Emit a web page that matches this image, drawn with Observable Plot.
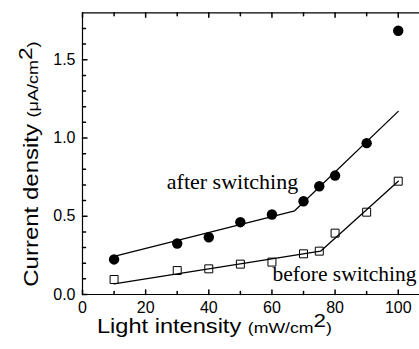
<!DOCTYPE html>
<html><head><meta charset="utf-8">
<script src="https://cdn.jsdelivr.net/npm/d3@7"></script>
<script src="https://cdn.jsdelivr.net/npm/@observablehq/plot@0.6"></script>
<style>html,body{margin:0;padding:0;background:#fff;overflow:hidden} svg{display:block}</style>
</head><body><div id="chart"></div>
<script>
// Data
const intensity = [10, 30, 40, 50, 60, 70, 75, 80, 90, 100];
const afterSwitching = [0.224, 0.326, 0.366, 0.462, 0.511, 0.596, 0.692, 0.760, 0.967, 1.685];
const beforeSwitching = [0.096, 0.153, 0.164, 0.194, 0.207, 0.260, 0.277, 0.392, 0.526, 0.724];
const afterFitX = [10, 67.2, 100];
const afterFitY = [0.243, 0.535, 1.17];
const beforeFitX = [10, 75.4, 100];
const beforeFitY = [0.068, 0.277, 0.724];
const xTickLabels = [0, 20, 40, 60, 80, 100];
const yTickLabels = [0, 0.5, 1.0, 1.5];
const xMajorTicks = [0, 20, 40, 60, 80, 100];
const xMinorTicks = [10, 30, 50, 70, 90];
const yMajorTicks = [0, 0.5, 1.0, 1.5];
const yMinorTicks = [0.1, 0.2, 0.3, 0.4, 0.6, 0.7, 0.8, 0.9, 1.1, 1.2, 1.3, 1.4, 1.6, 1.7];

const afterData = intensity.map((x, i) => ({x, y: afterSwitching[i]}));
const beforeData = intensity.map((x, i) => ({x, y: beforeSwitching[i]}));
const afterFit = afterFitX.map((x, i) => ({x, y: afterFitY[i]}));
const beforeFit = beforeFitX.map((x, i) => ({x, y: beforeFitY[i]}));

const tickShape = {draw(ctx, l) { ctx.moveTo(0, 0); ctx.lineTo(0, -l); }};
const sans = "'Liberation Sans', Arial, sans-serif";
const serif = "'Liberation Serif', 'Times New Roman', serif";

const chart = Plot.plot({
  width: 419,
  height: 349,
  marginLeft: 82, marginTop: 13, marginBottom: 55, marginRight: 0,
  style: {fontFamily: sans, fontSize: "16px", color: "black", background: "white"},
  x: {domain: [0, 110], range: [82, 429.3]},
  y: {domain: [0, 1.8], range: [294, 12.3]},
  marks: [
    Plot.ruleY([0], {stroke: "black", strokeWidth: 1.2}),
    Plot.ruleY([1.8], {stroke: "black", strokeWidth: 1.2}),
    Plot.ruleX([0], {stroke: "black", strokeWidth: 1.2}),
    Plot.vector(xMajorTicks, {x: d => d, y: 0, length: 4.5, anchor: "start", shape: tickShape, stroke: "black"}),
    Plot.vector(xMinorTicks, {x: d => d, y: 0, length: 3, anchor: "start", shape: tickShape, stroke: "black"}),
    Plot.vector(xMajorTicks, {x: d => d, y: 1.8, length: 4.5, rotate: 180, anchor: "start", shape: tickShape, stroke: "black"}),
    Plot.vector(xMinorTicks, {x: d => d, y: 1.8, length: 3, rotate: 180, anchor: "start", shape: tickShape, stroke: "black"}),
    Plot.vector(yMajorTicks, {x: 0, y: d => d, length: 4.5, rotate: 90, anchor: "start", shape: tickShape, stroke: "black"}),
    Plot.vector(yMinorTicks, {x: 0, y: d => d, length: 3, rotate: 90, anchor: "start", shape: tickShape, stroke: "black"}),
    Plot.axisX({ticks: xTickLabels, tickSize: 0, tickPadding: 7, label: null, fontSize: 16, tickFormat: d3.format("d")}),
    Plot.axisY({ticks: yTickLabels, tickSize: 0, tickPadding: 7, label: null, fontSize: 16, tickFormat: d3.format(".1f")}),
    Plot.line(afterFit, {x: "x", y: "y", stroke: "black", strokeWidth: 1.3}),
    Plot.line(beforeFit, {x: "x", y: "y", stroke: "black", strokeWidth: 1.3}),
    Plot.dot(afterData, {x: "x", y: "y", r: 5.2, fill: "black"}),
    Plot.dot(beforeData, {x: "x", y: "y", r: 4.5, symbol: "square", fill: "none", stroke: "black", strokeWidth: 1}),
    Plot.text(["after switching"], {x: 47.5, y: 0.72, text: d => d, textAnchor: "middle", fontSize: 22, fontFamily: serif, fill: "black"}),
    Plot.text(["before switching"], {x: 60.2, y: 0.13, text: d => d, textAnchor: "start", fontSize: 21.5, fontFamily: serif, fill: "black"})
  ]
});
document.getElementById("chart").appendChild(chart);

const svg = d3.select(chart);
// x-axis title
const xt = svg.append("text")
  .attr("transform", "translate(97,333) scale(1.18,1)")
  .attr("text-anchor", "start")
  .attr("font-family", sans).attr("fill", "black");
xt.append("tspan").attr("font-size", 20).text("Light intensity ");
xt.append("tspan").attr("font-size", 15).text("(mW/cm");
xt.append("tspan").attr("font-size", 19).attr("dy", -6).text("2");
xt.append("tspan").attr("font-size", 15).attr("dy", 6).text(")");
// y-axis title
const yt = svg.append("text")
  .attr("transform", "translate(37.5,286.7) rotate(-90) scale(1.2,1)")
  .attr("text-anchor", "start")
  .attr("font-family", sans).attr("fill", "black");
yt.append("tspan").attr("font-size", 20).text("Current density ");
yt.append("tspan").attr("font-size", 15).text("(\u03bcA/cm");
yt.append("tspan").attr("font-size", 19).attr("dy", -6).text("2");
yt.append("tspan").attr("font-size", 15).attr("dy", 6).text(")");
</script>
</body></html>
